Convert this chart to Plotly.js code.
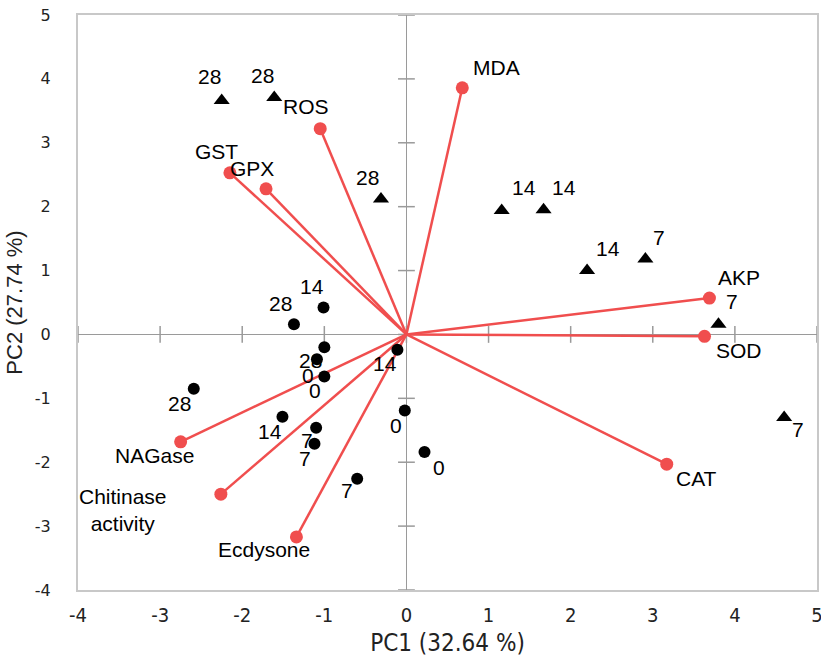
<!DOCTYPE html>
<html>
<head>
<meta charset="utf-8">
<script src="https://cdn.plot.ly/plotly-3.0.1.min.js"></script>
<style>html,body{margin:0;padding:0;background:#fff;}#chart{width:821px;height:662px;}</style>
</head>
<body>
<div id="chart"></div>
<script>
// ---- data ----
var triX = [-2.25, -1.61, -0.31, 1.16, 1.67, 2.20, 2.91, 3.80, 4.60];
var triY = [3.66, 3.71, 2.12, 1.94, 1.95, 1.00, 1.18, 0.16, -1.30];
var triLabels = ["28", "28", "28", "14", "14", "14", "7", "7", "7"];

var cirX = [-1.37, -1.01, -1.00, -1.09, -1.00, -0.11, -2.59, -1.51, -1.10, -1.12, -0.02, 0.22, -0.60];
var cirY = [0.16, 0.42, -0.20, -0.39, -0.66, -0.24, -0.85, -1.29, -1.46, -1.71, -1.19, -1.84, -2.26];
var cirLabels = ["28", "14", "28", "0", "0", "14", "28", "14", "7", "7", "0", "0", "7"];

var varNames = ["MDA", "ROS", "GST", "GPX", "AKP", "SOD", "CAT", "NAGase", "Chitinase<br>activity", "Ecdysone"];
var varX = [0.68, -1.05, -2.15, -1.71, 3.69, 3.63, 3.17, -2.75, -2.26, -1.34];
var varY = [3.86, 3.22, 2.53, 2.28, 0.57, -0.03, -2.03, -1.68, -2.50, -3.17];

var xTicks = [-4, -3, -2, -1, 0, 1, 2, 3, 4, 5];
var yTicks = [-4, -3, -2, -1, 0, 1, 2, 3, 4, 5];

// ---- label offsets (pixels: right, up) ----
var triOff = [[-12,24],[-12,22],[-13,22],[22,23],[20,22],[21,22],[14,22],[14,23],[14,-12]];
var cirOff = [[-13,21],[-12,21],[-14,-13],[-9,-16],[-9,-14],[-12,-14],[-14,-15],[-12,-15],[-9,-13],[-9,-15],[-9,-15],[14,-15],[-10,-12]];
var varOff = [[34,20],[-14,22],[-13,21],[-14,20],[30,21],[34,-14],[30,-14],[-26,-14],[-98,-16],[-32,-13]];

var RED = "rgb(240,78,78)";
var AXC = "#9a9a9a";

var traces = [];
// ticks on the zero axes
traces.push({x: yTicks.map(function(){return 0;}), y: yTicks, mode: "markers", type: "scatter",
  marker: {symbol: "line-ew", size: 12, line: {color: AXC, width: 1.5}}, hoverinfo: "skip", showlegend: false, cliponaxis: false});
traces.push({x: xTicks, y: xTicks.map(function(){return 0;}), mode: "markers", type: "scatter",
  marker: {symbol: "line-ns", size: 12, line: {color: AXC, width: 1.5}}, hoverinfo: "skip", showlegend: false, cliponaxis: false});

// loading vectors
var lx = [], ly = [];
for (var i = 0; i < varX.length; i++) { lx.push(0, varX[i], null); ly.push(0, varY[i], null); }
traces.push({x: lx, y: ly, mode: "lines", type: "scatter", line: {color: RED, width: 2.5}, showlegend: false, hoverinfo: "skip"});
traces.push({x: varX, y: varY, mode: "markers", type: "scatter", marker: {color: RED, size: 13}, showlegend: false, cliponaxis: false});

// scores
traces.push({x: cirX, y: cirY, mode: "markers", type: "scatter", marker: {color: "#000", size: 12, symbol: "circle"}, showlegend: false});
traces.push({x: triX, y: triY, mode: "markers", type: "scatter", marker: {color: "#000", size: 14, symbol: "triangle-up"}, showlegend: false, cliponaxis: false});

var ann = [];
var lblFont = {family: "Liberation Sans, Arial, sans-serif", size: 21, color: "#000"};
function addLabels(xs, ys, txt, off) {
  for (var k = 0; k < xs.length; k++) {
    ann.push({x: xs[k], y: ys[k], text: txt[k], showarrow: false, xshift: off[k][0], yshift: off[k][1],
      font: lblFont, xanchor: "center", yanchor: "middle", align: "center"});
  }
}
addLabels(triX, triY, triLabels, triOff);
addLabels(cirX, cirY, cirLabels, cirOff);
addLabels(varX, varY, varNames, varOff);

var layout = {
  width: 821, height: 662,
  margin: {l: 78, r: 4, t: 15, b: 72},
  paper_bgcolor: "#fff", plot_bgcolor: "#fff",
  showlegend: false,
  xaxis: {
    range: [-4, 5], tickvals: xTicks, ticktext: xTicks.map(String), showgrid: false,
    zeroline: true, zerolinecolor: AXC, zerolinewidth: 1.5,
    showline: true, mirror: true, linecolor: "#c8c8c8", linewidth: 2,
    ticks: "outside", ticklen: 6, tickcolor: "rgba(0,0,0,0)", ticklabeloverflow: "allow",
    tickfont: {family: "Liberation Sans Narrow, DejaVu Sans Condensed, sans-serif", size: 20, color: "#222"},
    title: {text: "PC1 (32.64 %)", font: {family: "Liberation Sans Narrow, DejaVu Sans Condensed, sans-serif", size: 24, color: "#222"}, standoff: 8}
  },
  yaxis: {
    range: [-4, 5], tickvals: yTicks, ticktext: yTicks.map(String), showgrid: false,
    zeroline: true, zerolinecolor: AXC, zerolinewidth: 1.5,
    showline: true, mirror: true, linecolor: "#c8c8c8", linewidth: 2,
    ticks: "outside", ticklen: 22, tickcolor: "rgba(0,0,0,0)",
    tickfont: {family: "DejaVu Sans, sans-serif", size: 16, color: "#222"},
    title: {text: "PC2 (27.74 %)", font: {family: "Liberation Sans, Arial, sans-serif", size: 22, color: "#222"}, standoff: 6}
  },
  annotations: ann
};

Plotly.newPlot("chart", traces, layout, {displayModeBar: false, staticPlot: true});
</script>
</body>
</html>
